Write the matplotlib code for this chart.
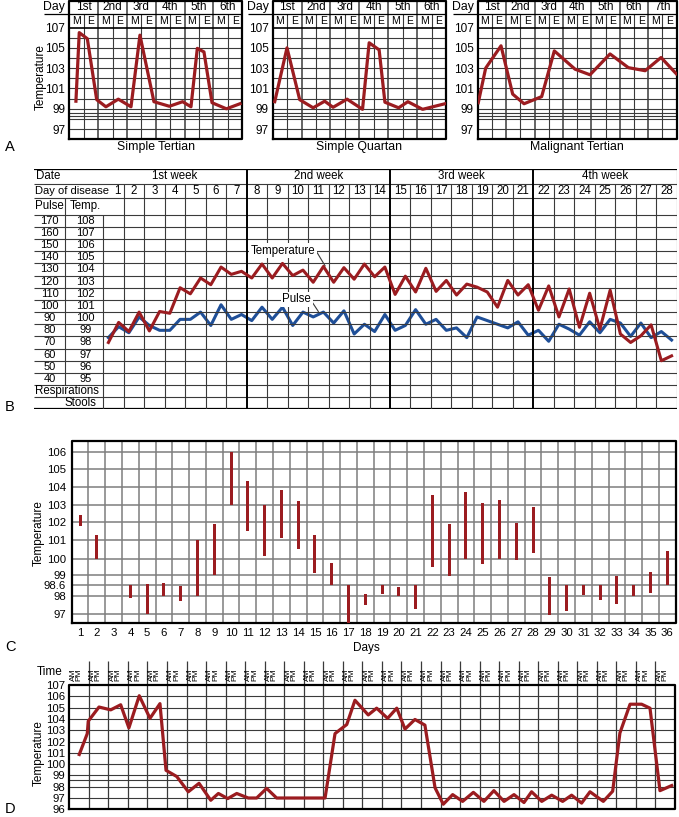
import matplotlib.pyplot as plt
import numpy as np

plt.rcParams["font.family"] = ["Liberation Sans", "DejaVu Sans"]

W, H = 679, 817
RED = "#9b1c20"
BLUE = "#1f4f98"
LINE = "#3a3a3a"

# ---------------- A: malaria fever patterns (x in M/E columns)
day_names = ["1st", "2nd", "3rd", "4th", "5th", "6th", "7th"]
a_grid = [97, 98, 98.3, 98.6, 99, 100, 101, 102, 103, 104, 105, 106]
a_ticks = [97, 99, 101, 103, 105, 107]

tertian_x = [0.46, 0.69, 1.25, 1.9, 2.54, 3.4, 4.28, 4.9, 5.87, 6.94, 7.86, 8.44,
             8.88, 9.34, 9.9, 10.9, 11.84]
tertian_t = [99.75, 106.5, 105.9, 99.9, 99.2, 99.95, 99.2, 106.25, 99.7, 99.25, 99.7,
             99.2, 104.95, 104.6, 99.6, 99.0, 99.5]

quartan_x = [0.14, 0.99, 1.87, 2.8, 3.6, 4.18, 5.15, 6.22, 6.68, 7.37, 7.77, 8.72,
             9.36, 10.38, 11.93]
quartan_t = [99.7, 105.0, 99.9, 99.1, 99.75, 99.15, 99.95, 98.95, 105.5, 104.8, 99.65,
             99.1, 99.7, 98.95, 99.5]

malignant_x = [0.04, 0.56, 1.64, 2.46, 3.26, 4.5, 5.39, 6.85, 7.9, 9.31, 10.6, 11.78,
               12.9, 13.97]
malignant_t = [99.6, 103.0, 105.2, 100.45, 99.5, 100.2, 104.7, 102.9, 102.35, 104.4,
               103.05, 102.75, 104.05, 102.45]

# ---------------- B: typhoid chart, two readings per day
b_weeks = ["1st week", "2nd week", "3rd week", "4th week"]
b_temp_labels = [108, 107, 106, 105, 104, 103, 102, 101, 100, 99, 98, 97, 96, 95]
b_pulse_labels = [170, 160, 150, 140, 130, 120, 110, 100, 90, 80, 70, 60, 50, 40]
b_temp = [98.0, 99.65, 98.9, 100.5, 98.95, 100.55, 100.4, 102.5, 102.0, 103.3,
          102.75, 104.2, 103.6, 103.85, 103.3, 104.45, 103.3, 104.5, 103.5, 103.95,
          102.95, 104.25, 102.95, 104.15, 103.2, 104.45, 103.4, 104.2, 101.95, 103.45,
          102.15, 104.1, 102.2, 103.1, 101.9, 102.8, 102.55, 102.15, 100.9, 103.1,
          101.9, 102.75, 100.65, 102.65, 100.1, 102.4, 99.25, 102.05, 99.1, 102.3,
          98.7, 98.0, 98.55, 99.45, 96.5, 96.9]
b_pulse = [74, 83, 78, 91, 84, 80, 80, 89, 89, 95,
           84, 101, 89, 93, 88, 99, 89, 99, 84, 95,
           91, 95, 86, 96, 77, 85, 79, 93, 80, 84,
           97, 85, 89, 80, 82, 74, 91, 88, 85, 82,
           87, 76, 80, 71, 85, 81, 76, 87, 78, 89,
           86, 75, 86, 74, 79, 72]

# ---------------- C: daily temperature ranges
c_label_days = list(range(1, 37))
c_days = [1, 2, 4, 5, 6, 7, 8, 9, 10, 11, 12, 13, 14, 15, 16, 17, 18, 19, 20, 21,
          22, 23, 24, 25, 26, 27, 28, 29, 30, 31, 32, 33, 34, 35, 36]
c_low = [101.8, 100.0, 97.9, 97.0, 98.0, 97.7, 98.0, 99.0, 103.0, 101.5, 100.15, 101.1,
         100.55, 99.1, 98.6, 96.5, 97.5, 98.1, 98.0, 97.3, 99.5, 98.95, 100.0, 99.65,
         100.0, 99.9, 100.3, 96.95, 97.15, 98.05, 97.8, 97.55, 98.0, 98.2, 98.6]
c_high = [102.4, 101.3, 98.6, 98.65, 98.7, 98.55, 101.0, 101.9, 106.0, 104.3, 103.0,
          103.8, 103.2, 101.3, 99.75, 98.6, 98.1, 98.6, 98.5, 98.6, 103.55, 101.9, 103.7,
          103.1, 103.25, 101.95, 102.9, 98.9, 98.6, 98.6, 98.6, 98.95, 98.6, 99.2, 100.4]
c_ticks = [97, 98, 98.6, 99, 100, 101, 102, 103, 104, 105, 106]
c_tick_labels = ["97", "98", "98.6", "99", "100", "101", "102", "103", "104", "105", "106"]
# uneven chart rows: 98.6 gets its own row
c_scale_t = [96, 97, 98, 98.6, 99, 100, 101, 102, 103, 104, 105, 106, 107]
c_scale_pos = [-1, 0, 1, 1.6, 2.2, 3.1, 4.15, 5.15, 6.15, 7.17, 8.15, 9.13, 10.13]

# ---------------- D: AM/PM readings
d_x = [0.51, 0.92, 0.97, 1.52, 2.12, 2.63, 3.05, 3.58, 4.13, 4.64, 4.95, 5.5, 6.09,
       6.64, 7.24, 7.63, 8.11, 8.57, 9.16, 9.59, 10.1, 10.61, 13.09, 13.6, 13.86, 14.2,
       14.62, 15.3, 15.73, 16.29, 16.76, 17.18, 17.69, 18.2, 18.72, 19.14, 19.62, 20.13,
       20.68, 21.22, 21.73, 22.25, 22.76, 23.27, 23.66, 24.18, 24.69, 25.25, 25.71,
       26.22, 26.65, 27.33, 27.81, 28.18, 28.7, 29.29, 29.72, 30.23, 30.83]
d_t = [100.85, 102.7, 103.8, 105.05, 104.8, 105.25, 103.2, 106.05, 104.05, 105.35,
       99.45, 98.9, 97.55, 98.3, 96.8, 97.4, 96.95, 97.4, 97.0, 97.0, 97.85, 97.0, 97.0,
       102.7, 103.05, 103.5, 105.65, 104.35, 104.95, 104.05, 104.95, 103.1, 103.95,
       103.45, 97.9, 96.45, 97.3, 96.7, 97.5, 96.7, 97.65, 96.7, 97.3, 96.6, 97.55,
       96.7, 97.25, 96.7, 97.25, 96.55, 97.55, 96.7, 97.6, 102.75, 105.3, 105.3, 104.95,
       97.65, 98.1]
d_ncols = 31
d_grid = [97, 98, 98.6, 99, 100, 101, 102, 103, 104, 105, 106]

fig = plt.figure(figsize=(W / 100, H / 100), dpi=100)


def px_axes(x0, y0, x1, y1):
    ax = fig.add_axes([x0 / W, 1 - y1 / H, (x1 - x0) / W, (y1 - y0) / H])
    for s in ax.spines.values():
        s.set_visible(False)
    ax.tick_params(length=0)
    ax.set_xticks([])
    ax.set_yticks([])
    ax.patch.set_visible(False)
    return ax


def fever_chart(x0, x1, xs, ts, ndays, title, ylabel=False):
    ax = px_axes(x0, 0.5, x1, 139.3)
    ncol = 2 * ndays
    top, mid = 109.66, 108.3
    colpx = (x1 - x0) / ncol
    ax.set_xlim(0, ncol)
    ax.set_ylim(96, top)
    ax.hlines(a_grid, 0, ncol, color=LINE, lw=0.8)
    ax.vlines(np.arange(1, ncol, 2), 96, mid, color=LINE, lw=0.8)
    ax.vlines(np.arange(2, ncol, 2), 96, top, color=LINE, lw=1.1)
    ax.hlines([107], 0, ncol, color="black", lw=1.2)
    ax.hlines([mid], 0, ncol, color="black", lw=0.9)
    ax.hlines([mid], -25 / colpx, 0, color="black", lw=0.9, clip_on=False)
    ax.plot([0, ncol, ncol, 0, 0], [96, 96, top, top, 96], color="black", lw=1.6,
            clip_on=False)
    for i in range(ndays):
        ax.text(2 * i + 1, (mid + top) / 2, day_names[i], ha="center", va="center",
                fontsize=8.5)
    for j in range(ncol):
        ax.text(j + 0.5, (107 + mid) / 2 - 0.05, "ME"[j % 2], ha="center", va="center",
                fontsize=7.5)
    ax.text(-4 / colpx, (mid + top) / 2 + 0.05, "Day", ha="right", va="center",
            fontsize=8.8)
    ax.set_yticks(a_ticks)
    ax.set_yticklabels([str(t) for t in a_ticks])
    ax.tick_params(axis="y", pad=3, labelsize=8.5)
    ax.plot(xs, ts, color=RED, lw=2.3, zorder=5)
    ax.text(ncol / 2, 95.2, title, ha="center", va="center", fontsize=8.8)
    if ylabel:
        ax.text(-29 / colpx, 102.15, "Temperature", rotation=90, ha="center",
                va="center", fontsize=8.5)
    return ax


fever_chart(69.3, 242.3, tertian_x, tertian_t, 6, "Simple Tertian", ylabel=True)
fever_chart(272.7, 446.0, quartan_x, quartan_t, 6, "Simple Quartan")
fever_chart(477.7, 676.7, malignant_x, malignant_t, 7, "Malignant Tertian")

# ---------------- B
axb = px_axes(34, 169, 676.7, 409.4)
b_left = (34 - 103.3) / 20.48
b_div = (65.5 - 103.3) / 20.48
b_top, b_date, b_day, b_head = 112.26, 111.06, 109.87, 108.5
axb.set_xlim(b_left, 28)
axb.set_ylim(92.5, b_top)
rows = [b_date, b_day] + list(np.arange(b_head, 93.0, -1.0))
axb.hlines(rows, b_left, 28, color=LINE, lw=0.8)
axb.hlines([b_top, 92.5], b_left, 28, color="black", lw=1.6)
plain_days = [d for d in range(1, 28) if d % 7 != 0]
axb.vlines(plain_days, 92.5, b_date, color=LINE, lw=0.8)
axb.vlines([7, 14, 21], 92.5, b_top, color="black", lw=1.4)
axb.vlines([28], 92.5, b_top, color=LINE, lw=0.8)
axb.vlines([0], 92.5, b_head, color=LINE, lw=0.8)
axb.vlines([b_div], 94.5, b_day, color=LINE, lw=0.8)

axb.text(b_left + 0.1, (b_top + b_date) / 2, "Date", ha="left", va="center", fontsize=8.3)
for i, w in enumerate(b_weeks):
    axb.text(7 * i + 3.5, (b_top + b_date) / 2, w, ha="center", va="center", fontsize=8.3)
axb.text(b_left + 0.05, (b_date + b_day) / 2, "Day of disease", ha="left", va="center",
         fontsize=8)
for d in range(1, 29):
    axb.text(d - 0.5 + (0.2 if d == 1 else 0), (b_date + b_day) / 2, str(d),
             ha="center", va="center", fontsize=8.3)
axb.text((b_left + b_div) / 2, (b_day + b_head) / 2, "Pulse", ha="center", va="center",
         fontsize=8.3)
axb.text(b_div + 0.2, (b_day + b_head) / 2, "Temp.", ha="left", va="center", fontsize=8.3)
for p, t in zip(b_pulse_labels, b_temp_labels):
    axb.text((b_left + b_div) / 2, t, str(p), ha="center", va="center", fontsize=8)
    axb.text(b_div / 2 + 0.05, t, str(t), ha="center", va="center", fontsize=8)
axb.text(b_left + 0.05, 94, "Respirations", ha="left", va="center", fontsize=8.3)
axb.text(-1.1, 93, "Stools", ha="center", va="center", fontsize=8.3)

half_days = 0.25 + 0.5 * np.arange(len(b_temp))
axp = axb.twinx()
for s in axp.spines.values():
    s.set_visible(False)
axp.set_yticks([])
axp.set_ylim(10 * (92.5 - 91), 10 * (b_top - 91))
axp.plot(half_days, b_pulse, color=BLUE, lw=2.2)
axb.set_zorder(axp.get_zorder() + 1)
axb.plot(half_days, b_temp, color=RED, lw=2.2, zorder=5)

lab = dict(ha="center", va="center", fontsize=8.3,
           bbox=dict(facecolor="white", edgecolor="none", pad=1.2), zorder=4)
axb.text(8.77, 105.55, "Temperature", **lab)
axb.plot([10.42, 10.83], [105.45, 104.3], color=LINE, lw=0.8)
axb.text(9.44, 101.55, "Pulse", **lab)
axb.plot([10.13, 10.5], [101.5, 100.55], color=LINE, lw=0.8)

# ---------------- C
axc = px_axes(71.7, 440.7, 675.7, 622.7)
axc.set_yscale("function", functions=(lambda v: np.interp(v, c_scale_t, c_scale_pos),
                                      lambda p: np.interp(p, c_scale_pos, c_scale_t)))
axc.set_xlim(0.5, 36.5)
axc.set_ylim(96.5, 106.63)
axc.hlines(c_ticks, 0.5, 36.5, color="#7d7d7d", lw=1.1)
axc.vlines(np.arange(1.5, 36, 1), 96.5, 106.63, color="#7d7d7d", lw=1.1)
axc.plot([0.5, 36.5, 36.5, 0.5, 0.5], [96.5, 96.5, 106.63, 106.63, 96.5], color="black",
         lw=1.6, clip_on=False)
axc.bar(c_days, np.array(c_high) - np.array(c_low), bottom=c_low, width=0.18,
        color=RED, zorder=5)
axc.set_yticks(c_ticks)
axc.set_yticklabels(c_tick_labels)
axc.set_xticks(c_label_days)
axc.set_xticklabels([str(d) for d in c_label_days])
axc.tick_params(length=0, labelsize=8.2)
axc.tick_params(axis="y", pad=4)
axc.tick_params(axis="x", pad=4)
axc.minorticks_off()
axc.text((366.7 - 71.7) / 604, -(648 - 622.7) / 182, "Days", transform=axc.transAxes,
         ha="center", va="center", fontsize=8.5)
axc.text(-(71.7 - 39) / 604, (622.7 - 533) / 182, "Temperature", transform=axc.transAxes,
         rotation=90, ha="center", va="center", fontsize=8.5)

# ---------------- D
axd = px_axes(69.3, 661, 675, 809.3)
d_top = 107 + (685 - 661) / 11.3
axd.set_xlim(0, d_ncols)
axd.set_ylim(96, d_top)
axd.hlines(d_grid, 0, d_ncols, color=LINE, lw=0.8)
axd.vlines(np.arange(1, d_ncols), 96, d_top, color=LINE, lw=0.9)
axd.plot([0, d_ncols, d_ncols, 0, 0], [96, 96, 107, 107, 96], color="black", lw=1.6,
         clip_on=False)
for c in range(d_ncols):
    axd.text(c + 0.34, 107.95, "AM\nPM", rotation=90, ha="center", va="center",
             fontsize=6, linespacing=0.75)
axd.text(-0.37, 108.15, "Time", ha="right", va="center", fontsize=8.5)
axd.set_yticks(range(96, 108))
axd.set_yticklabels([str(t) for t in range(96, 108)])
axd.tick_params(axis="y", pad=3, labelsize=8.2)
axd.plot(d_x, d_t, color=RED, lw=2.3, zorder=5)
axd.text(-1.55, 100.98, "Temperature", rotation=90, ha="center", va="center",
         fontsize=8.5)

for letter, y in zip("ABCD", [147, 407, 647, 809]):
    fig.text(10 / W, 1 - y / H, letter, ha="center", va="center", fontsize=10.5)

fig.savefig("out.png", dpi=100)
